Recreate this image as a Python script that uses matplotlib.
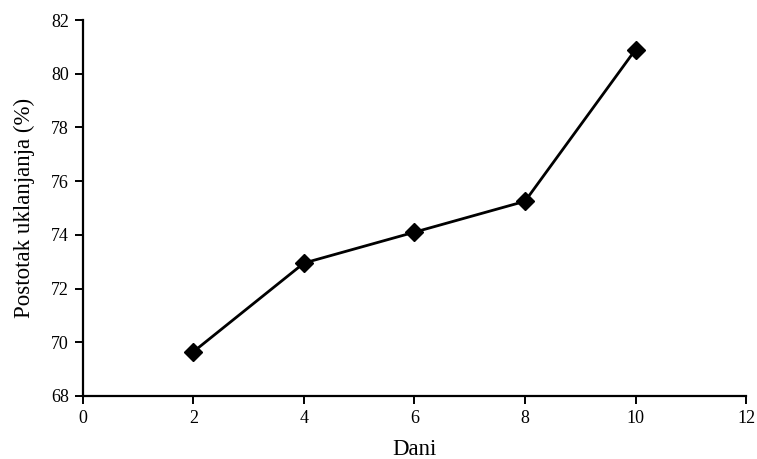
import matplotlib.pyplot as plt

# Data
dani = [2, 4, 6, 8, 10]
postotak = [69.65, 72.95, 74.1, 75.25, 80.9]
xticks = [0, 2, 4, 6, 8, 10, 12]
yticks = [68, 70, 72, 74, 76, 78, 80, 82]

plt.rcParams['font.family'] = ['Liberation Serif', 'DejaVu Serif']

fig = plt.figure(figsize=(7.57, 4.59), dpi=100)
ax = fig.add_axes([0.1096, 0.1373, 0.8759, 0.8191])

ax.plot(dani, postotak, color='black', lw=2, marker='D', ms=9,
        mfc='black', mec='black')

ax.set_xlim(0, 12)
ax.set_ylim(68, 82)
ax.set_xticks(xticks)
ax.set_yticks(yticks)
ax.spines['top'].set_visible(False)
ax.spines['right'].set_visible(False)
ax.spines['left'].set_linewidth(1.6)
ax.spines['bottom'].set_linewidth(1.6)
ax.tick_params(direction='out', length=6, width=1.4, labelsize=13, pad=4)

ax.set_xlabel('Dani', fontsize=16.5, labelpad=9)
ax.set_ylabel('Postotak uklanjanja (%)', fontsize=16.5, labelpad=12)

fig.savefig('out.png', dpi=100)
